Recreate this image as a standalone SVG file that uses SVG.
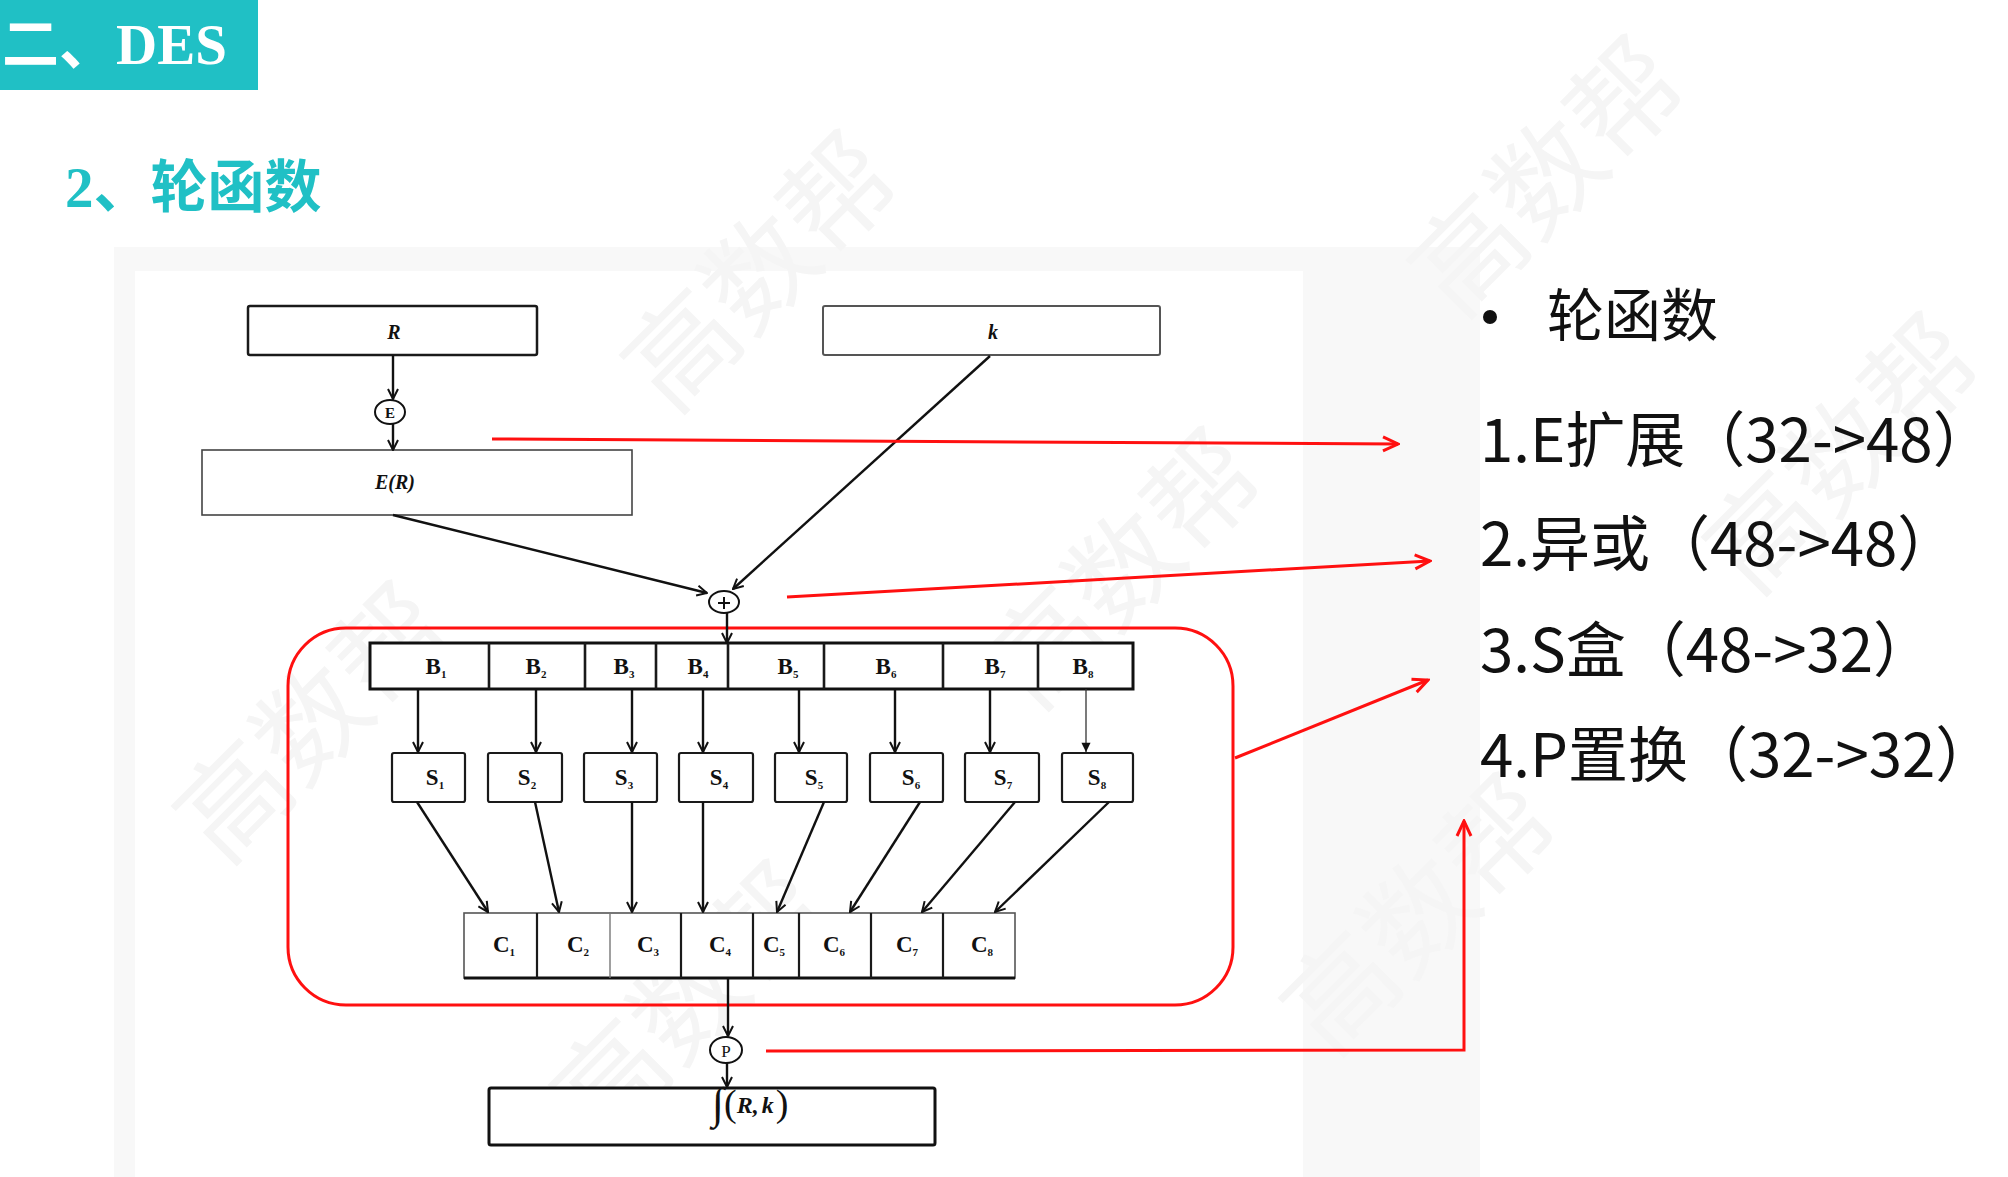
<svg xmlns="http://www.w3.org/2000/svg" width="2008" height="1177" viewBox="0 0 2008 1177">
  <style>
    .box{fill:#fff;stroke:#1a1a1a;stroke-width:2.5}
    .thin{fill:#fff;stroke:#444;stroke-width:1.6}
    .cell{fill:none;stroke:#1a1a1a;stroke-width:2.2}
    .conn{fill:none;stroke:#111;stroke-width:2.4}
    .red{fill:none;stroke:#ff1010;stroke-width:3}
    .lbl{font-family:"Liberation Serif",serif;font-weight:bold;font-size:23px;fill:#111;text-anchor:middle}
    .it{font-style:italic;font-size:20px}
    .sub{font-size:11px}
    .cn{font-family:"Noto Sans CJK SC",sans-serif;fill:#111}
    .wm{font-family:"Noto Sans CJK SC",sans-serif;font-size:110px;fill:#f5f5f5;text-anchor:middle}
  </style>
  <defs>
    <marker id="ah" viewBox="0 0 12 12" refX="11" refY="6" markerWidth="12" markerHeight="12" markerUnits="userSpaceOnUse" orient="auto">
      <path d="M1,1 L11,6 L1,11" fill="none" stroke="#111" stroke-width="2"/>
    </marker>
    <marker id="ahf" viewBox="0 0 12 12" refX="11" refY="6" markerWidth="11" markerHeight="11" markerUnits="userSpaceOnUse" orient="auto">
      <path d="M1,1 L11,6 L1,11 Z" fill="#111"/>
    </marker>
    <marker id="ra" viewBox="0 0 20 20" refX="18" refY="10" markerWidth="20" markerHeight="20" markerUnits="userSpaceOnUse" orient="auto">
      <path d="M3,3 L18,10 L3,17" fill="none" stroke="#ff1010" stroke-width="3"/>
    </marker>
  </defs>

  <rect width="2008" height="1177" fill="#fff"/>
  <!-- panel -->
  <rect x="114" y="247" width="1366" height="930" fill="#f8f8f8"/>
  <rect x="135" y="271" width="1168" height="906" fill="#fff"/>

  <!-- watermarks -->
  <g id="watermarks">
    <text class="wm" transform="translate(788,300) rotate(-45)">高数帮</text>
    <text class="wm" transform="translate(1575,205) rotate(-45)">高数帮</text>
    <text class="wm" transform="translate(1152,597) rotate(-45)">高数帮</text>
    <text class="wm" transform="translate(1870,482) rotate(-45)">高数帮</text>
    <text class="wm" transform="translate(340,751) rotate(-45)">高数帮</text>
    <text class="wm" transform="translate(717,1030) rotate(-45)">高数帮</text>
    <text class="wm" transform="translate(1447,943) rotate(-45)">高数帮</text>
  </g>

  <!-- header -->
  <g id="title">
    <rect x="0" y="0" width="258" height="90" fill="#20c0c5"/>
    <text x="2" y="64" fill="#fff" font-size="57"><tspan font-family="Noto Sans CJK SC, sans-serif" font-weight="bold">二、</tspan><tspan font-family="Liberation Serif, serif" font-weight="bold">DES</tspan></text>
  </g>
  <g id="subtitle">
    <text x="65" y="207" fill="#20c0c5" font-size="57" font-weight="bold"><tspan font-family="Liberation Serif, serif">2</tspan><tspan font-family="Noto Sans CJK SC, sans-serif">、轮函数</tspan></text>
  </g>

  <!-- red highlight box -->
  <g id="sbox-group">
    <rect x="288" y="628" width="945" height="377" rx="58" ry="58" fill="none" stroke="#ff1010" stroke-width="3"/>
  </g>

  <!-- nodes -->
  <g id="node-R">
    <rect class="box" x="248" y="306" width="289" height="49" rx="2"/>
    <text class="lbl it" x="394" y="339">R</text>
  </g>
  <g id="node-k">
    <rect class="thin" x="823" y="306" width="337" height="49" rx="2" style="stroke:#555;stroke-width:2"/>
    <text class="lbl it" x="993" y="339">k</text>
  </g>
  <g id="node-E">
    <ellipse cx="390" cy="412" rx="15" ry="12" fill="#fff" stroke="#111" stroke-width="2"/>
    <text class="lbl" x="390" y="418" style="font-size:15px">E</text>
  </g>
  <g id="node-ER">
    <rect class="thin" x="202" y="450" width="430" height="65"/>
    <text class="lbl it" x="395" y="489">E(R)</text>
  </g>
  <g id="node-xor">
    <ellipse cx="724" cy="602" rx="15" ry="11" fill="#fff" stroke="#111" stroke-width="2"/>
    <path d="M718,603 H730 M724,597 V609" stroke="#111" stroke-width="2"/>
  </g>

  <g id="node-B">
    <rect x="370" y="643" width="763" height="46" fill="#fff" stroke="#111" stroke-width="3"/>
    <path class="cell" d="M489,643V689 M585,643V689 M656,643V689 M728,643V689 M824,643V689 M943,643V689 M1038,643V689" style="stroke-width:2.6"/>
    <text class="lbl" x="436" y="674">B<tspan class="sub" dy="4">1</tspan></text>
    <text class="lbl" x="536" y="674">B<tspan class="sub" dy="4">2</tspan></text>
    <text class="lbl" x="624" y="674">B<tspan class="sub" dy="4">3</tspan></text>
    <text class="lbl" x="698" y="674">B<tspan class="sub" dy="4">4</tspan></text>
    <text class="lbl" x="788" y="674">B<tspan class="sub" dy="4">5</tspan></text>
    <text class="lbl" x="886" y="674">B<tspan class="sub" dy="4">6</tspan></text>
    <text class="lbl" x="995" y="674">B<tspan class="sub" dy="4">7</tspan></text>
    <text class="lbl" x="1083" y="674">B<tspan class="sub" dy="4">8</tspan></text>
  </g>

  <g id="node-S1"><rect class="cell" x="392" y="753" width="73" height="49" rx="2"/><text class="lbl" x="435" y="785">S<tspan class="sub" dy="4">1</tspan></text></g>
  <g id="node-S2"><rect class="cell" x="488" y="753" width="74" height="49" rx="2"/><text class="lbl" x="527" y="785">S<tspan class="sub" dy="4">2</tspan></text></g>
  <g id="node-S3"><rect class="cell" x="584" y="753" width="73" height="49" rx="2"/><text class="lbl" x="624" y="785">S<tspan class="sub" dy="4">3</tspan></text></g>
  <g id="node-S4"><rect class="cell" x="679" y="753" width="74" height="49" rx="2"/><text class="lbl" x="719" y="785">S<tspan class="sub" dy="4">4</tspan></text></g>
  <g id="node-S5"><rect class="cell" x="775" y="753" width="72" height="49" rx="2"/><text class="lbl" x="814" y="785">S<tspan class="sub" dy="4">5</tspan></text></g>
  <g id="node-S6"><rect class="cell" x="870" y="753" width="73" height="49" rx="2"/><text class="lbl" x="911" y="785">S<tspan class="sub" dy="4">6</tspan></text></g>
  <g id="node-S7"><rect class="cell" x="965" y="753" width="74" height="49" rx="2"/><text class="lbl" x="1003" y="785">S<tspan class="sub" dy="4">7</tspan></text></g>
  <g id="node-S8"><rect class="cell" x="1062" y="753" width="71" height="49" rx="2"/><text class="lbl" x="1097" y="785">S<tspan class="sub" dy="4">8</tspan></text></g>

  <g id="node-C">
    <rect x="464" y="913" width="551" height="65" fill="#fff" stroke="#555" stroke-width="1.6"/>
    <path d="M464,978H1015" stroke="#111" stroke-width="3"/>
    <path class="cell" d="M537,913V978 M681,913V978 M753,913V978 M799,913V978 M871,913V978 M943,913V978"/>
    <path d="M610,913V978" stroke="#777" stroke-width="1.4"/>
    <text class="lbl" x="504" y="952">C<tspan class="sub" dy="4">1</tspan></text>
    <text class="lbl" x="578" y="952">C<tspan class="sub" dy="4">2</tspan></text>
    <text class="lbl" x="648" y="952">C<tspan class="sub" dy="4">3</tspan></text>
    <text class="lbl" x="720" y="952">C<tspan class="sub" dy="4">4</tspan></text>
    <text class="lbl" x="774" y="952">C<tspan class="sub" dy="4">5</tspan></text>
    <text class="lbl" x="834" y="952">C<tspan class="sub" dy="4">6</tspan></text>
    <text class="lbl" x="907" y="952">C<tspan class="sub" dy="4">7</tspan></text>
    <text class="lbl" x="982" y="952">C<tspan class="sub" dy="4">8</tspan></text>
  </g>

  <g id="node-P">
    <ellipse cx="726" cy="1050" rx="16" ry="13" fill="#fff" stroke="#111" stroke-width="2"/>
    <text class="lbl" x="726" y="1057" style="font-size:17px;font-weight:normal">P</text>
  </g>

  <g id="node-f">
    <rect x="489" y="1088" width="446" height="57" fill="#fff" stroke="#111" stroke-width="3" rx="2"/>
    <text x="712" y="1118" font-family="Liberation Serif, serif" fill="#111"><tspan font-size="44" font-style="italic">∫</tspan><tspan font-size="38" dy="-2">(</tspan><tspan font-size="24" font-weight="bold" font-style="italic" dy="-3">R,</tspan><tspan font-size="24" font-weight="bold" font-style="italic" dx="3">k</tspan><tspan font-size="38" dx="2" dy="3">)</tspan></text>
  </g>

  <!-- connectors -->
  <g id="connectors">
    <path class="conn" d="M393,355 V399" marker-end="url(#ah)"/>
    <path class="conn" d="M393,424 V450" marker-end="url(#ah)"/>
    <path class="conn" d="M393,515 L707,593" marker-end="url(#ah)"/>
    <path class="conn" d="M990,356 L733,589" marker-end="url(#ah)"/>
    <path class="conn" d="M727,613 V643" marker-end="url(#ah)"/>
    <path class="conn" d="M418,689V752" marker-end="url(#ah)"/>
    <path class="conn" d="M536,689V752" marker-end="url(#ah)"/>
    <path class="conn" d="M632,689V752" marker-end="url(#ah)"/>
    <path class="conn" d="M703,689V752" marker-end="url(#ah)"/>
    <path class="conn" d="M799,689V752" marker-end="url(#ah)"/>
    <path class="conn" d="M895,689V752" marker-end="url(#ah)"/>
    <path class="conn" d="M990,689V752" marker-end="url(#ah)"/>
    <path d="M1086,689V752" stroke="#333" stroke-width="1.3" fill="none" marker-end="url(#ahf)"/>
    <path class="conn" d="M417,802 L488,912" marker-end="url(#ah)"/>
    <path class="conn" d="M535,802 L559,912" marker-end="url(#ah)"/>
    <path class="conn" d="M632,802 V912" marker-end="url(#ah)"/>
    <path class="conn" d="M703,802 V912" marker-end="url(#ah)"/>
    <path class="conn" d="M824,802 L777,912" marker-end="url(#ah)"/>
    <path class="conn" d="M920,802 L850,912" marker-end="url(#ah)"/>
    <path class="conn" d="M1015,802 L922,912" marker-end="url(#ah)"/>
    <path class="conn" d="M1109,802 L995,912" marker-end="url(#ah)"/>
    <path class="conn" d="M728,978 V1036" marker-end="url(#ah)"/>
    <path class="conn" d="M727,1063 V1087" marker-end="url(#ah)"/>
    <!-- red annotation arrows -->
    <path class="red" d="M492,439 L1398,444" marker-end="url(#ra)"/>
    <path class="red" d="M787,597 L1430,561" marker-end="url(#ra)"/>
    <path class="red" d="M1235,758 L1428,680" marker-end="url(#ra)"/>
    <path class="red" d="M766,1051 L1464,1050 V821" marker-end="url(#ra)"/>
  </g>

  <!-- right-hand list -->
  <g id="list">
    <circle cx="1490" cy="317" r="7" fill="#111"/>
    <text class="cn" x="1547" y="336" font-size="57">轮函数</text>
    <text class="cn" x="1480" y="462" font-size="60">1.E扩展（32-&gt;48）</text>
    <text class="cn" x="1480" y="566" font-size="60">2.异或（48-&gt;48）</text>
    <text class="cn" x="1480" y="672" font-size="60">3.S盒（48-&gt;32）</text>
    <text class="cn" x="1480" y="777" font-size="60">4.P置换（32-&gt;32）</text>
  </g>
</svg>
